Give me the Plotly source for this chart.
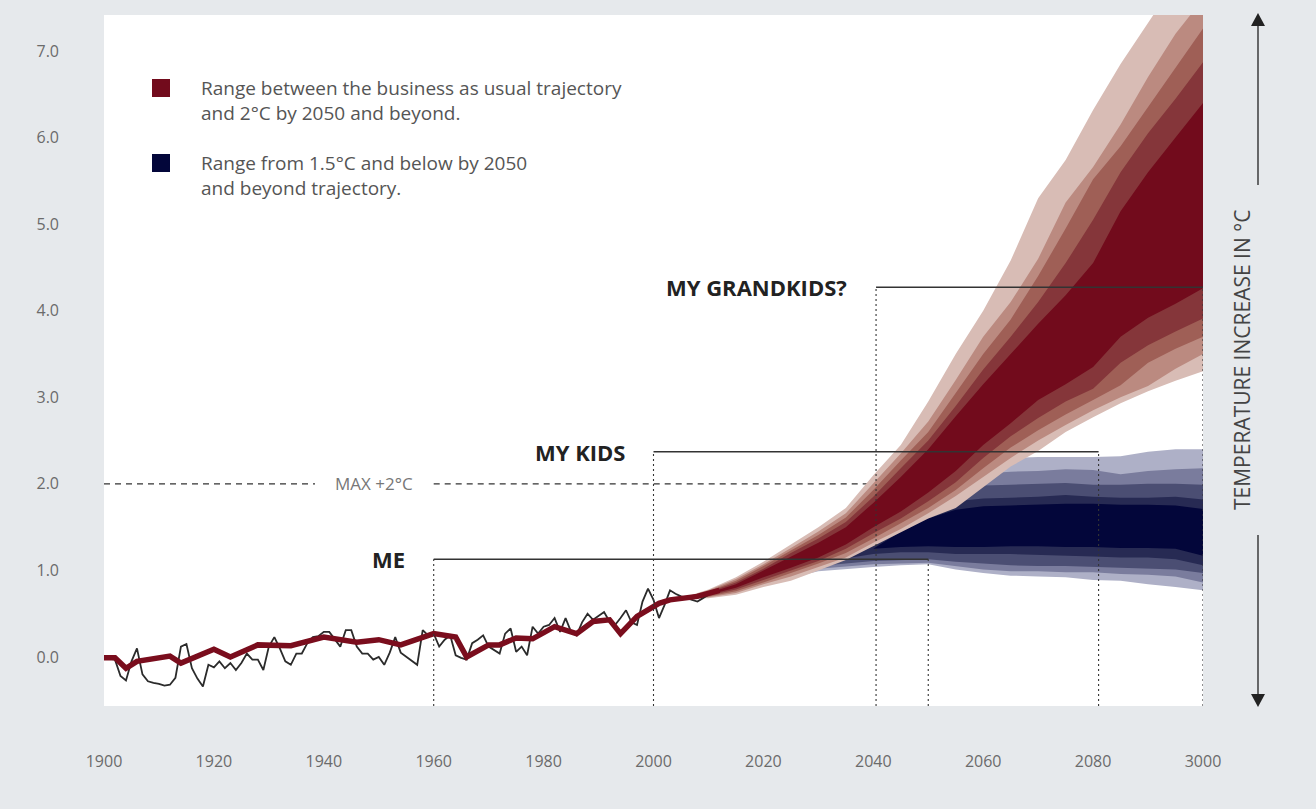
import plotly.graph_objects as go

# ---------------- data ----------------
hist_years = list(range(1900, 2011))
hist_temp = [
    -0.01, -0.02, -0.03, -0.22, -0.27, -0.05, 0.10, -0.20, -0.28, -0.30,
    -0.31, -0.33, -0.32, -0.24, 0.12, 0.15, -0.13, -0.25, -0.34, -0.09,
    -0.12, -0.05, -0.13, -0.07, -0.15, -0.07, 0.04, -0.03, -0.03, -0.15,
    0.12, 0.23, 0.10, -0.05, -0.09, 0.04, 0.04, 0.16, 0.23, 0.24,
    0.29, 0.29, 0.20, 0.12, 0.31, 0.31, 0.12, 0.04, 0.04, -0.03,
    0.00, -0.09, 0.05, 0.23, 0.05, 0.00, -0.05, -0.09, 0.31, 0.25,
    0.27, 0.12, 0.20, 0.25, 0.02, -0.01, -0.03, 0.16, 0.20, 0.25,
    0.12, 0.08, 0.04, 0.27, 0.33, 0.06, 0.12, 0.02, 0.35, 0.27,
    0.35, 0.37, 0.45, 0.29, 0.45, 0.29, 0.25, 0.40, 0.50, 0.43,
    0.47, 0.52, 0.41, 0.37, 0.45, 0.54, 0.40, 0.37, 0.64, 0.79,
    0.66, 0.45, 0.60, 0.77, 0.73, 0.70, 0.68, 0.66, 0.64, 0.68,
    0.72,
]

smooth_years = [1900, 1902, 1904, 1906, 1912, 1914, 1920, 1923, 1928, 1934,
                1940, 1946, 1950, 1954, 1960, 1964, 1966, 1970, 1972, 1975,
                1978, 1982, 1986, 1989, 1992, 1994, 1997, 2001, 2003, 2008, 2012]
smooth_temp = [-0.01, -0.01, -0.13, -0.05, 0.01, -0.07, 0.09, 0.00, 0.14, 0.13,
               0.23, 0.17, 0.20, 0.14, 0.27, 0.23, 0.00, 0.14, 0.14, 0.22,
               0.21, 0.35, 0.27, 0.41, 0.43, 0.27, 0.47, 0.62, 0.66, 0.70, 0.77]

# business-as-usual / 2°C range (red), outer -> inner
red_years = [2005, 2010, 2015, 2020, 2025, 2030, 2035, 2040, 2045, 2050,
             2055, 2060, 2065, 2070, 2075, 2080, 2085, 2090, 2095, 2100]
red_l1_up = [0.68, 0.78, 0.92, 1.10, 1.30, 1.50, 1.72, 2.10, 2.45, 2.95, 3.50, 4.00, 4.58, 5.30, 5.74, 6.32, 6.85, 7.32, 7.80, 8.20]
red_l2_up = [0.68, 0.77, 0.90, 1.07, 1.26, 1.45, 1.66, 2.00, 2.35, 2.72, 3.20, 3.70, 4.10, 4.60, 5.25, 5.66, 6.15, 6.70, 7.20, 7.60]
red_l3_up = [0.68, 0.76, 0.88, 1.05, 1.23, 1.41, 1.61, 1.93, 2.27, 2.60, 3.05, 3.50, 3.90, 4.40, 4.95, 5.52, 5.90, 6.35, 6.80, 7.26]
red_l4_up = [0.68, 0.75, 0.86, 1.02, 1.20, 1.37, 1.56, 1.85, 2.18, 2.50, 2.90, 3.32, 3.70, 4.10, 4.55, 5.05, 5.60, 6.05, 6.45, 6.87]
red_l5_up = [0.68, 0.74, 0.84, 1.00, 1.16, 1.32, 1.50, 1.78, 2.08, 2.40, 2.78, 3.15, 3.50, 3.85, 4.18, 4.55, 5.15, 5.60, 6.00, 6.40]
red_l5_lo = [0.68, 0.72, 0.80, 0.92, 1.03, 1.15, 1.30, 1.50, 1.68, 1.90, 2.15, 2.45, 2.70, 2.97, 3.15, 3.35, 3.70, 3.92, 4.08, 4.26]
red_l4_lo = [0.68, 0.71, 0.78, 0.89, 1.00, 1.11, 1.25, 1.43, 1.60, 1.80, 2.02, 2.30, 2.55, 2.76, 2.95, 3.10, 3.40, 3.60, 3.76, 3.91]
red_l3_lo = [0.68, 0.70, 0.76, 0.86, 0.97, 1.08, 1.20, 1.37, 1.54, 1.72, 1.93, 2.18, 2.42, 2.62, 2.80, 2.97, 3.14, 3.40, 3.56, 3.70]
red_l2_lo = [0.68, 0.69, 0.74, 0.84, 0.93, 1.04, 1.15, 1.32, 1.48, 1.66, 1.86, 2.08, 2.30, 2.50, 2.68, 2.85, 3.00, 3.13, 3.33, 3.50]
red_l1_lo = [0.68, 0.68, 0.72, 0.81, 0.88, 1.00, 1.12, 1.28, 1.44, 1.60, 1.72, 1.96, 2.20, 2.38, 2.60, 2.77, 2.93, 3.07, 3.19, 3.30]

# 1.5°C and below range (blue), outer -> inner
blue_years = [2010, 2020, 2030, 2040, 2045, 2050, 2055, 2060, 2065, 2070,
              2075, 2080, 2085, 2090, 2095, 2100]
blue_l1_up = [0.74, 1.00, 1.30, 1.70, 1.95, 2.12, 2.22, 2.28, 2.30, 2.31, 2.31, 2.31, 2.32, 2.37, 2.40, 2.40]
blue_l2_up = [0.73, 0.98, 1.26, 1.62, 1.85, 2.00, 2.08, 2.12, 2.14, 2.15, 2.17, 2.16, 2.11, 2.15, 2.17, 2.18]
blue_l3_up = [0.72, 0.96, 1.22, 1.55, 1.75, 1.88, 1.95, 1.98, 1.99, 2.00, 2.01, 1.99, 1.99, 2.00, 2.00, 1.99]
blue_l4_up = [0.72, 0.94, 1.18, 1.45, 1.60, 1.72, 1.80, 1.83, 1.84, 1.85, 1.87, 1.85, 1.84, 1.84, 1.85, 1.82]
blue_l5_up = [0.72, 0.92, 1.14, 1.25, 1.45, 1.60, 1.70, 1.74, 1.75, 1.76, 1.77, 1.77, 1.76, 1.76, 1.75, 1.71]
blue_l5_lo = [0.72, 0.92, 1.14, 1.25, 1.27, 1.28, 1.27, 1.27, 1.28, 1.28, 1.27, 1.27, 1.26, 1.26, 1.25, 1.17]
blue_l4_lo = [0.71, 0.90, 1.09, 1.19, 1.21, 1.21, 1.19, 1.19, 1.19, 1.18, 1.17, 1.16, 1.15, 1.15, 1.13, 1.06]
blue_l3_lo = [0.71, 0.88, 1.05, 1.11, 1.12, 1.13, 1.10, 1.08, 1.06, 1.05, 1.05, 1.04, 1.03, 1.02, 1.01, 0.97]
blue_l2_lo = [0.70, 0.86, 1.02, 1.07, 1.08, 1.09, 1.05, 1.01, 0.99, 0.99, 0.98, 0.98, 0.96, 0.95, 0.93, 0.86]
blue_l1_lo = [0.70, 0.84, 0.99, 1.04, 1.06, 1.07, 1.01, 0.97, 0.94, 0.93, 0.92, 0.89, 0.88, 0.84, 0.81, 0.77]

milestone_labels = ["ME", "MY KIDS", "MY GRANDKIDS?"]
milestone_start = [1960, 2000, 2040.5]
milestone_end = [2050, 2081, 2100]
milestone_level = [1.13, 2.37, 4.27]

limit_level = 2.0
limit_label = "MAX +2°C"
limit_segments = [(1900, 1938.4), (1960, 2040)]

x_ticks = [1900, 1920, 1940, 1960, 1980, 2000, 2020, 2040, 2060, 2080, 2100]
x_ticktext = ["1900", "1920", "1940", "1960", "1980", "2000", "2020", "2040", "2060", "2080", "3000"]
y_ticks = [0, 1, 2, 3, 4, 5, 6, 7]

legend_texts = ["Range between the business as usual trajectory<br>and 2°C by 2050 and beyond.",
                "Range from 1.5°C and below by 2050<br>and beyond trajectory."]
axis_title = "TEMPERATURE INCREASE IN °C"

# ---------------- styling ----------------
W, H = 1316, 809
ML, MR, MT, MB = 104, 113, 15, 103
YMIN, YMAX = -0.566, 7.416
BG = "#e6e9ec"
red_colors = ["#d8bcb5", "#bb8a80", "#9f5f56", "#85363a", "#720b1c"]
blue_colors = ["#aeb0c7", "#7a7c9d", "#4b4e73", "#272a53", "#03063a"]
FONT = "Open Sans"
DARK = "#333333"

pw = W - ML - MR
ph = H - MT - MB
def px(x):
    return (x - ML) / pw
def py(y):
    return (H - MB - y) / ph

fig = go.Figure()

def band(xs, up, lo, color):
    fig.add_trace(go.Scatter(
        x=list(xs) + list(xs)[::-1], y=list(up) + list(lo)[::-1],
        mode="lines", line=dict(width=0), fill="toself", fillcolor=color,
        hoverinfo="skip", showlegend=False))

blue_up = [blue_l1_up, blue_l2_up, blue_l3_up, blue_l4_up, blue_l5_up]
blue_lo = [blue_l1_lo, blue_l2_lo, blue_l3_lo, blue_l4_lo, blue_l5_lo]
for u, l, c in zip(blue_up, blue_lo, blue_colors):
    band(blue_years, u, l, c)

red_up = [red_l1_up, red_l2_up, red_l3_up, red_l4_up, red_l5_up]
red_lo = [red_l1_lo, red_l2_lo, red_l3_lo, red_l4_lo, red_l5_lo]
for u, l, c in zip(red_up, red_lo, red_colors):
    band(red_years, u, l, c)

fig.add_trace(go.Scatter(x=hist_years, y=hist_temp, mode="lines",
                         line=dict(color="#2b2b2b", width=1.8),
                         hoverinfo="skip", showlegend=False))
fig.add_trace(go.Scatter(x=smooth_years, y=smooth_temp, mode="lines",
                         line=dict(color="#7a0d1d", width=5.5),
                         hoverinfo="skip", showlegend=False))

shapes = []
# +2°C limit dashed line
for x0, x1 in limit_segments:
    shapes.append(dict(type="line", xref="x", yref="y", x0=x0, x1=x1,
                       y0=limit_level, y1=limit_level, layer="below",
                       line=dict(color=DARK, width=1.1, dash="6px,5px")))

annotations = []
annotations.append(dict(x=(limit_segments[0][1] + limit_segments[1][0]) / 2, y=limit_level,
                        xref="x", yref="y", text=limit_label, showarrow=False,
                        font=dict(family=FONT, size=17, color="#777777")))

for lab, x0, x1, lv in zip(milestone_labels, milestone_start, milestone_end, milestone_level):
    shapes.append(dict(type="line", xref="x", yref="y", x0=x0, x1=x1, y0=lv, y1=lv,
                       line=dict(color=DARK, width=1.5)))
    for xv in (x0, x1):
        shapes.append(dict(type="line", xref="x", yref="y", x0=xv, x1=xv, y0=YMIN, y1=lv,
                           line=dict(color=DARK, width=1.1, dash="2px,3px")))
    annotations.append(dict(x=x0, y=lv, xref="x", yref="y", text="<b>" + lab + "</b>",
                            showarrow=False, xanchor="right", xshift=-27,
                            font=dict(family=FONT, size=22, color="#222222")))

# legend
for i, (txt, col) in enumerate(zip(legend_texts, [red_colors[-1], blue_colors[-1]])):
    top = 79 + i * 75
    shapes.append(dict(type="rect", xref="paper", yref="paper",
                       x0=px(152), x1=px(170), y0=py(top + 18), y1=py(top),
                       line=dict(width=0), fillcolor=col))
    annotations.append(dict(x=px(199), y=py(top + 21), xref="paper", yref="paper",
                            text=txt, showarrow=False, xanchor="left", yanchor="middle",
                            align="left",
                            font=dict(family=FONT, size=19, color="#555555")))

# right-hand axis title with arrows
ax_x = px(1258)
shapes.append(dict(type="line", xref="paper", yref="paper", x0=ax_x, x1=ax_x,
                   y0=py(185), y1=py(22), line=dict(color="#222222", width=1.3)))
shapes.append(dict(type="line", xref="paper", yref="paper", x0=ax_x, x1=ax_x,
                   y0=py(535), y1=py(698), line=dict(color="#222222", width=1.3)))
shapes.append(dict(type="path", xref="paper", yref="paper",
                   path=f"M {px(1251)} {py(26)} L {px(1258)} {py(13)} L {px(1265)} {py(26)} Z",
                   fillcolor="#222222", line=dict(width=0)))
shapes.append(dict(type="path", xref="paper", yref="paper",
                   path=f"M {px(1251)} {py(694)} L {px(1258)} {py(707)} L {px(1265)} {py(694)} Z",
                   fillcolor="#222222", line=dict(width=0)))
annotations.append(dict(x=ax_x, y=py(360), xref="paper", yref="paper", text=axis_title,
                        showarrow=False, textangle=-90,
                        font=dict(family=FONT, size=21, color="#444444")))

fig.update_layout(
    width=W, height=H,
    margin=dict(l=ML, r=MR, t=MT, b=MB, pad=0),
    paper_bgcolor=BG, plot_bgcolor="white",
    shapes=shapes, annotations=annotations,
    showlegend=False,
    font=dict(family=FONT, color="#666666"),
    xaxis=dict(range=[1900, 2100], tickvals=x_ticks, ticktext=x_ticktext,
               showgrid=False, zeroline=False, showline=False, ticks="",
               ticklabelstandoff=44, tickfont=dict(family=FONT, size=16, color="#6b6b6b")),
    yaxis=dict(range=[YMIN, YMAX], tickvals=y_ticks, tickformat=".1f",
               showgrid=False, zeroline=False, showline=False, ticks="",
               ticklabelstandoff=44, tickfont=dict(family=FONT, size=16, color="#6b6b6b")),
)

fig.write_html("out.html", config={"displayModeBar": False},
               post_script="document.body.style.margin='0px';")
